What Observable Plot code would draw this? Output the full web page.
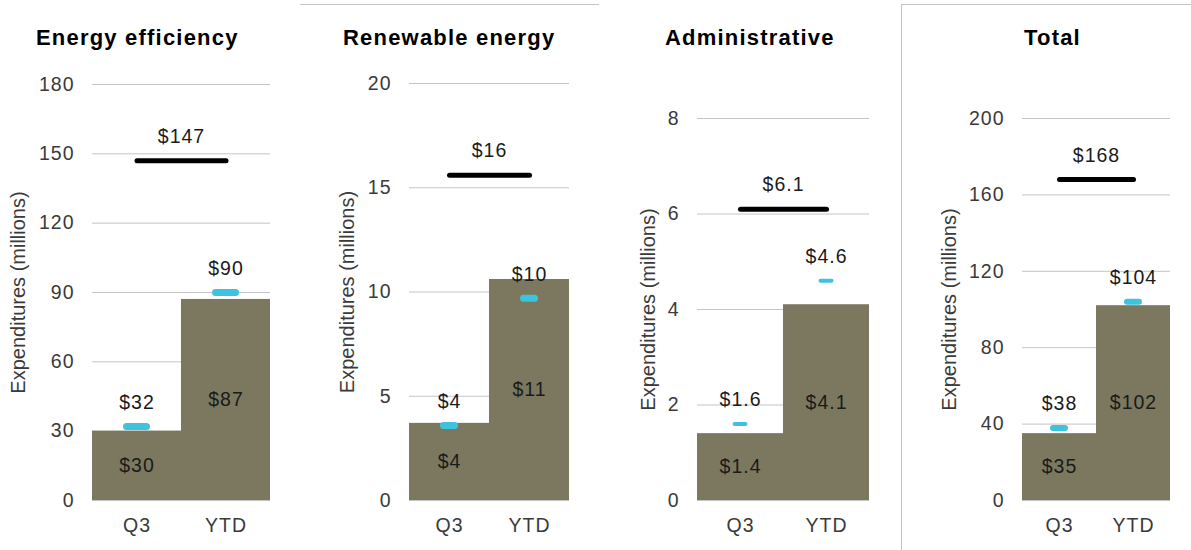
<!DOCTYPE html>
<html>
<head>
<meta charset="utf-8">
<script src="https://cdn.jsdelivr.net/npm/d3@7"></script>
<script src="https://cdn.jsdelivr.net/npm/@observablehq/plot@0.6"></script>
<style>
  html, body { margin: 0; padding: 0; background: #fff; }
  #chart { position: relative; width: 1191px; height: 550px; overflow: hidden;
           font-family: "Liberation Sans", Arial, Helvetica, sans-serif; }
  .panel { position: absolute; top: 0; }
  .panel svg text { letter-spacing: 1px; }
  .title { position: absolute; top: 27px; font-size: 22px; line-height: 22px; font-weight: bold;
           letter-spacing: 1.2px; color: #000; white-space: nowrap; }
  .rule-top { position: absolute; left: 300px; top: 4px; width: 299px; height: 0; border-top: 1px solid #c4c4c4; }
  .box { position: absolute; left: 901px; top: 4px; width: 300px; height: 560px;
         border-left: 1px solid #c4c4c4; border-top: 1px solid #c4c4c4; }
</style>
</head>
<body>
<div id="chart">
  <div class="rule-top"></div>
  <div class="box"></div>
</div>
<script>
// ---- data ----
const panelTitles = ["Energy efficiency", "Renewable energy", "Administrative", "Total"];
const periods = ["Q3", "YTD"];
const actualSpend = [[30, 87], [3.7, 10.6], [1.4, 4.1], [35, 102]];
const budgetToDate = [[32, 90], [3.6, 9.7], [1.6, 4.6], [38, 104]];
const annualBudget = [147, 15.6, 6.1, 168];
const yTicks = [
  [0, 30, 60, 90, 120, 150, 180],
  [0, 5, 10, 15, 20],
  [0, 2, 4, 6, 8],
  [0, 40, 80, 120, 160, 200]
];
const labelFormats = ["$.0f", "$.0f", "$.1f", "$.0f"];
const yAxisTitle = "Expenditures (millions)";

// ---- layout & style ----
const layout = [
  {left: 0,   width: 290, mL: 92,  mR: 20, mT: 84,  titleX: 36,   yTitleDx: -74, tickSW: 7, tickLen: 20},
  {left: 300, width: 300, mL: 109, mR: 31, mT: 83,  titleX: 343,  yTitleDx: -62, tickSW: 7, tickLen: 11},
  {left: 600, width: 300, mL: 97,  mR: 31, mT: 118, titleX: 665,  yTitleDx: -49, tickSW: 4, tickLen: 11},
  {left: 900, width: 291, mL: 122, mR: 21, mT: 118, titleX: 1024, yTitleDx: -73, tickSW: 6, tickLen: 12}
];
const barColor = "#7b785f";
const markerColor = "#3ec3df";
const gridColor = "#c4c4c4";
const font = "Liberation Sans, Arial, Helvetica, sans-serif";

const chart = document.getElementById("chart");

panelTitles.forEach((title, p) => {
  const L = layout[p];
  const fmt = d3.format(labelFormats[p]);
  const rows = periods.map((period, i) => ({
    period, actual: actualSpend[p][i], budget: budgetToDate[p][i]
  }));
  const ticks = yTicks[p];
  const bandwidth = (L.width - L.mL - L.mR) / periods.length;
  const inset = (bandwidth - L.tickLen) / 2;

  const svg = Plot.plot({
    width: L.width,
    height: 550,
    marginTop: L.mT,
    marginBottom: 50,
    marginLeft: L.mL,
    marginRight: L.mR,
    x: {domain: periods, padding: 0, label: null},
    y: {domain: [ticks[0], ticks[ticks.length - 1]], label: null},
    style: {fontFamily: font, fontSize: "19.5px", color: "#3a3a3a", background: "transparent", overflow: "visible"},
    marks: [
      Plot.gridY(ticks, {stroke: gridColor, strokeOpacity: 1, strokeWidth: 1}),
      Plot.barY(rows, {x: "period", y: "actual", fill: barColor}),
      Plot.axisY(ticks, {tickSize: 0, tickPadding: 18, label: null, tickFormat: d3.format("d")}),
      Plot.axisX({tickSize: 0, tickPadding: 18, label: null}),
      Plot.text(rows, {x: "period", y: d => d.actual / 2, text: d => fmt(d.actual), fill: "#1a1a1a", fontSize: 19.5}),
      Plot.tickY(rows, {x: "period", y: "budget", stroke: markerColor, strokeWidth: L.tickSW,
                        strokeLinecap: "round", insetLeft: inset, insetRight: inset}),
      Plot.text(rows, {x: "period", y: "budget", text: d => fmt(d.budget), dy: -24, fill: "#1a1a1a", fontSize: 19.5}),
      Plot.link([annualBudget[p]], {x1: () => periods[0], x2: () => periods[periods.length - 1],
                                    y1: d => d, y2: d => d, stroke: "#000", strokeWidth: 5, strokeLinecap: "round"}),
      Plot.text([annualBudget[p]], {y: d => d, text: d => fmt(d), dy: -24, fill: "#1a1a1a", fontSize: 19.5}),
      Plot.text([yAxisTitle], {frameAnchor: "left", text: d => d, rotate: -90, textAnchor: "middle",
                               dx: L.yTitleDx, fontSize: 20, fill: "#3a3a3a"})
    ]
  });

  const wrap = document.createElement("div");
  wrap.className = "panel";
  wrap.style.left = L.left + "px";
  wrap.appendChild(svg);
  chart.appendChild(wrap);

  // y-axis title is rotated: no horizontal letter spacing
  svg.querySelectorAll("text").forEach(t => {
    if (t.textContent === yAxisTitle) t.style.letterSpacing = "0px";
  });

  const tdiv = document.createElement("div");
  tdiv.className = "title";
  tdiv.style.left = L.titleX + "px";
  tdiv.textContent = title;
  chart.appendChild(tdiv);
});
</script>
</body>
</html>
